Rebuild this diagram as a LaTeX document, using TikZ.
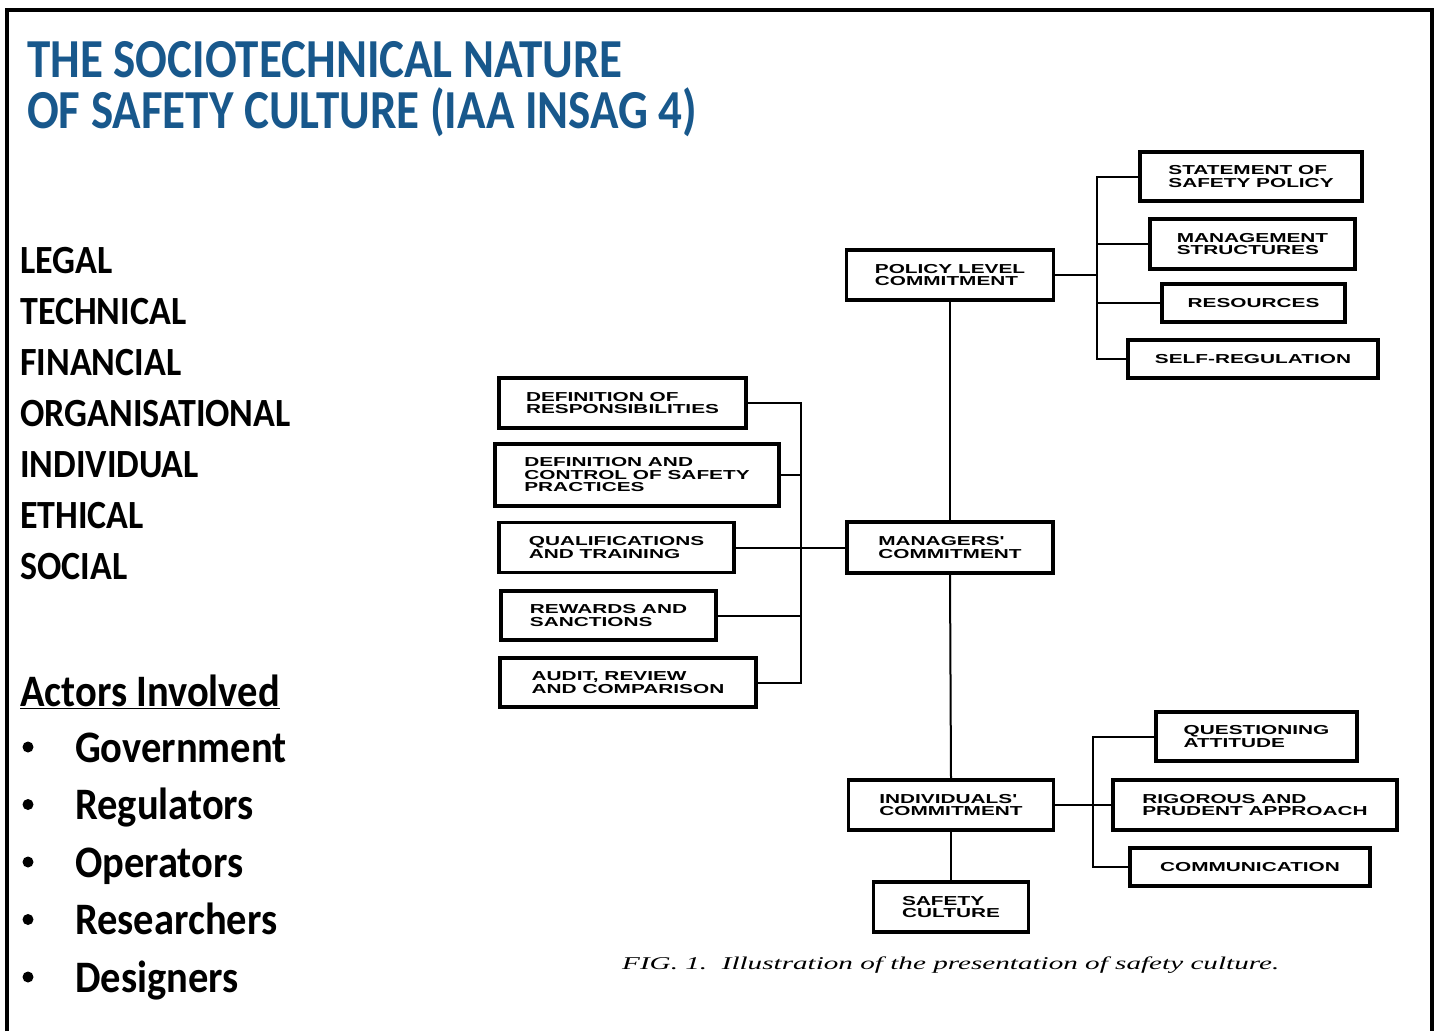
\documentclass[tikz,border=0pt]{standalone}
\usepackage{fontspec}
\usepackage{tikz}
\usetikzlibrary{positioning}
\newfontfamily\slidefont[FakeStretch=0.9]{Carlito}
\newfontfamily\headfont[FakeStretch=0.855]{Carlito}
\newfontfamily\boxfont[FakeStretch=1.6]{Liberation Sans}
\newfontfamily\capfont[FakeStretch=1.62]{Liberation Serif}
\definecolor{titleblue}{RGB}{24,88,140}
\tikzset{
  blk/.style={draw, line width=3.2pt, align=left, inner sep=0pt,
    font=\boxfont\bfseries\fontsize{13}{12.5}\selectfont},
  wire/.style={line width=2pt},
  slide/.style={anchor=base west, inner sep=0pt,
    font=\slidefont\bfseries\fontsize{40}{40}\selectfont},
  actor/.style={slide, font=\slidefont\bfseries\fontsize{45}{45}\selectfont},
  head/.style={slide, text=titleblue, font=\headfont\bfseries\fontsize{55}{55}\selectfont}
}

\begin{document}
\begin{tikzpicture}[x=1pt, y=-1pt]
  \useasboundingbox (0,0) rectangle (1438,1031);
  \draw[line width=4pt] (7,1031) -- (7,10) -- (1432,10) -- (1432,1031);

  \node[head] (t1) at (27,77) {THE SOCIOTECHNICAL NATURE};
  \node[head] (t2) at (27,128) {OF SAFETY CULTURE (IAA INSAG 4)};

  \node[slide] (legal) at (20,273) {LEGAL};
  \node[slide] (tech) at (20,324) {TECHNICAL};
  \node[slide] (fin) at (20,375) {FINANCIAL};
  \node[slide] (org) at (20,426) {ORGANISATIONAL};
  \node[slide] (ind) at (20,477) {INDIVIDUAL};
  \node[slide] (eth) at (20,528) {ETHICAL};
  \node[slide] (soc) at (20,579) {SOCIAL};

  \node[actor] (actors) at (20,706) {\underline{Actors Involved}};
  \foreach \name [count=\i] in {Government,Regulators,Operators,Researchers,Designers} {
    \fill (28,747-57.5+57.5*\i) circle (5.5pt) coordinate (b\i);
    \node[actor] (a\i) at (75,704.5+57.5*\i) {\name};
  }

  \node[blk, minimum width=222pt, minimum height=49pt] (stmt) at (1251,176.5) {STATEMENT OF\\SAFETY POLICY};
  \node[blk, minimum width=205pt, minimum height=50pt] (mgmt) at (1252.5,244) {MANAGEMENT\\STRUCTURES};
  \node[blk, minimum width=183pt, minimum height=38pt] (res) at (1253.5,303) {RESOURCES};
  \node[blk, minimum width=250pt, minimum height=38pt] (selfreg) at (1253,359) {SELF-REGULATION};
  \node[blk, minimum width=207pt, minimum height=50pt] (policy) at (950,275) {POLICY LEVEL\\COMMITMENT};

  \node[blk, minimum width=206pt, minimum height=51pt] (managers) at (950,547.5) {MANAGERS'\\COMMITMENT};
  \node[blk, minimum width=247pt, minimum height=50pt] (defresp) at (622.5,403) {DEFINITION OF\\RESPONSIBILITIES};
  \node[blk, minimum width=284pt, minimum height=62pt] (defctrl) at (637,475) {DEFINITION AND\\CONTROL OF SAFETY\\PRACTICES};
  \node[blk, minimum width=235pt, minimum height=50pt] (qual) at (616.5,547.5) {QUALIFICATIONS\\AND TRAINING};
  \node[blk, minimum width=215pt, minimum height=49pt] (reward) at (608.5,615.5) {REWARDS AND\\SANCTIONS};
  \node[blk, minimum width=256pt, minimum height=49pt] (audit) at (628,682.5) {AUDIT, REVIEW\\AND COMPARISON};

  \node[blk, minimum width=205pt, minimum height=50pt] (indiv) at (951,805) {INDIVIDUALS'\\COMMITMENT};
  \node[blk, minimum width=201pt, minimum height=49pt] (quest) at (1256.5,736.5) {QUESTIONING\\ATTITUDE};
  \node[blk, minimum width=284pt, minimum height=50pt] (rig) at (1255,805) {RIGOROUS AND\\PRUDENT APPROACH};
  \node[blk, minimum width=240pt, minimum height=38pt] (comm) at (1250,867) {COMMUNICATION};
  \node[blk, minimum width=155pt, minimum height=50pt] (safety) at (951,907) {SAFETY\\CULTURE};

  \coordinate (busP) at (1097,0);
  \coordinate (busM) at (801,0);
  \coordinate (busI) at (1093,0);

  \draw[wire] (policy.east) -- (policy.east -| busP);
  \draw[wire] (stmt.west) -- (stmt.west -| busP) |- (selfreg.west);
  \draw[wire] (mgmt.west) -- (mgmt.west -| busP);
  \draw[wire] (res.west) -- (res.west -| busP);

  \draw[wire] (defresp.east) -- (defresp.east -| busM) |- (audit.east);
  \draw[wire] (defctrl.east) -- (defctrl.east -| busM);
  \draw[wire] (reward.east) -- (reward.east -| busM);
  \draw[wire] (qual.east) -- (managers.west);

  \draw[wire] (quest.west) -- (quest.west -| busI) |- (comm.west);
  \draw[wire] (indiv.east) -- (rig.west);

  \draw[wire] (policy.south) -- (managers.north);
  \draw[wire] (managers.south) -- (indiv.north);
  \draw[wire] (indiv.south) -- (safety.north);

  \node[anchor=base west, inner sep=0pt, font=\capfont\itshape\fontsize{18}{18}\selectfont] (fig) at (622,969) {FIG. 1.\ \ Illustration of the presentation of safety culture.};
\end{tikzpicture}
\end{document}
